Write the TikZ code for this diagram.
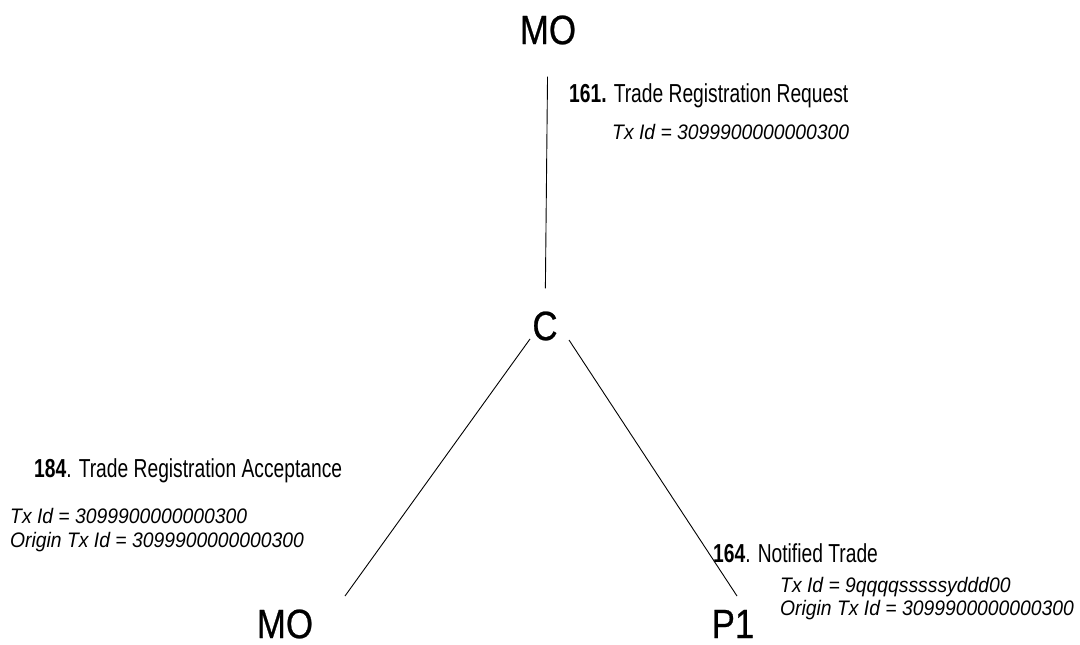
\documentclass[tikz,border=0pt]{standalone}
\usepackage{fontspec}
\setmainfont{Liberation Sans}[FakeStretch=0.74]
\newfontfamily\partyfont{Liberation Sans}[FakeStretch=0.85, FakeBold=0.6]
\newfontfamily\idfont{Liberation Sans}[FakeStretch=0.92]
\usetikzlibrary{calc}
\usetikzlibrary{positioning}

\tikzset{
  party/.style={font=\partyfont\fontsize{41}{48}\selectfont, inner sep=0pt},
  msg/.style={font=\fontsize{26}{30}\selectfont, inner sep=0pt, anchor=base west},
  txid/.style={msg, font=\idfont\itshape\fontsize{21}{25}\selectfont},
}

\begin{document}
\begin{tikzpicture}[x=1pt, y=-1pt]
	\useasboundingbox (0,0) rectangle (1080,645);

	\begin{scope}[every node/.style={party}]
		\node (mo1) at (548,30) {MO};
		\node (c) at (545,326) {C};
		\node (mo2) at (285,624) {MO};
		\node (p1) at (733,624) {P1};
	\end{scope}

	\begin{scope}[every edge/.style={draw=black, line width=0.9pt}]
		\path (mo1) edge[shorten <=32pt, shorten >=23pt] (c);
		\path ([shift={(-15,13)}]c.center) edge ([shift={(60,-28)}]mo2.center);
		\path ([shift={(24,14)}]c.center) edge ([shift={(4,-28)}]p1.center);
	\end{scope}

	% message labels
	\node[msg] (m161) at (569,102) {\textbf{161.} Trade Registration Request};
	\node[txid] (t161) at (612,139) {Tx Id = 3099900000000300};

	\node[msg] (m184) at (34,477) {\textbf{184}. Trade Registration Acceptance};
	\node[txid] (t184) at (10,523) {Tx Id = 3099900000000300};
	\node[txid] (o184) at (10,547) {Origin Tx Id = 3099900000000300};

	\node[msg] (m164) at (713,562) {\textbf{164}. Notified Trade};
	\node[txid] (t164) at (780,592) {Tx Id = 9qqqqsssssyddd00};
	\node[txid] (o164) at (780,615) {Origin Tx Id = 3099900000000300};
\end{tikzpicture}
\end{document}
